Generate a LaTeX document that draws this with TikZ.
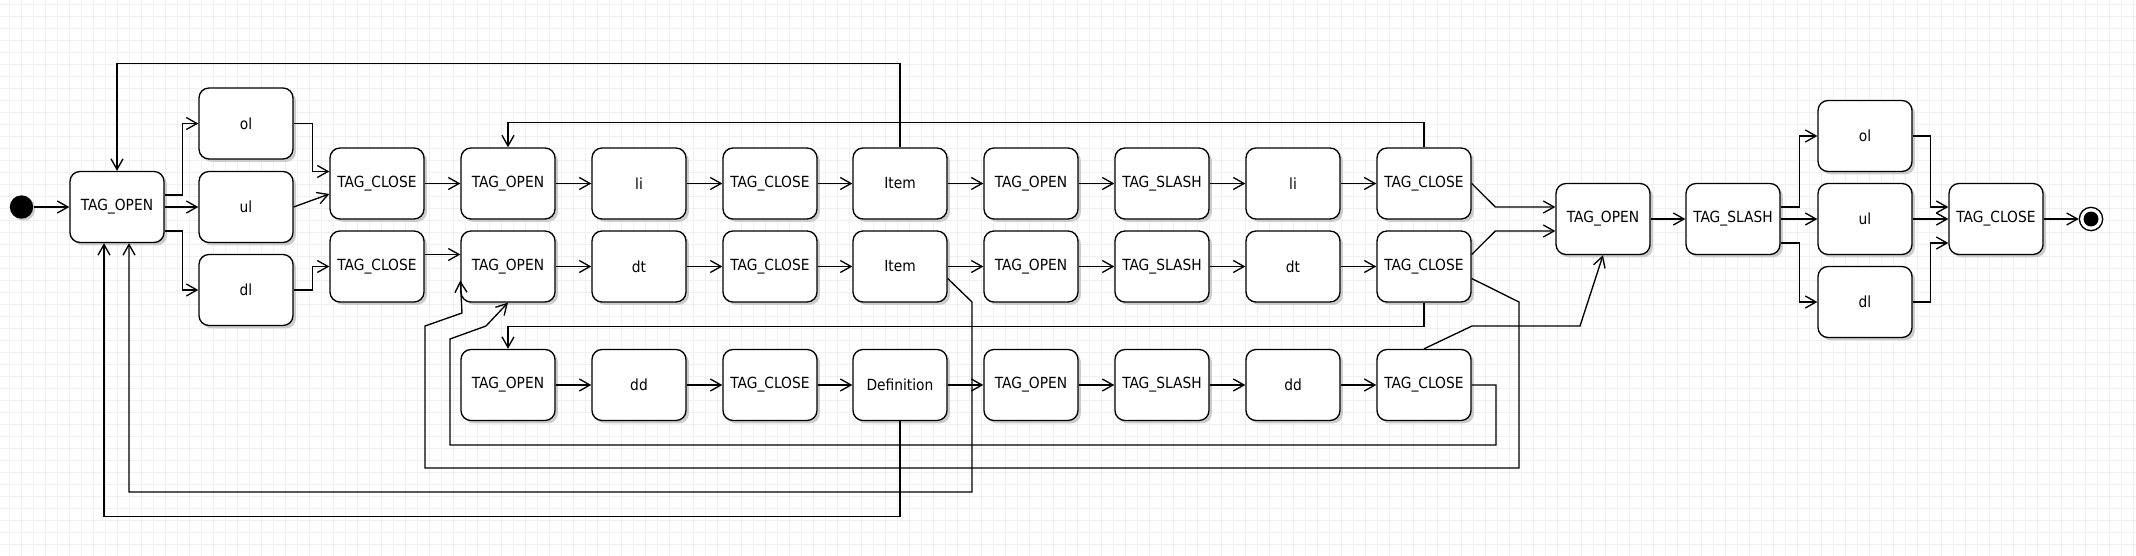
\documentclass[tikz,border=0pt]{standalone}
\usepackage{fontspec}
\setmainfont{DejaVu Sans Condensed}
\usetikzlibrary{arrows.meta,calc,shadows}
\tikzset{every picture/.style={line width=0.75pt}}
\tikzset{
  stbox/.style={draw, fill=white, rounded corners=7.5pt, minimum width=70.5pt, minimum height=53.25pt,
    inner sep=0pt, line width=1pt, font=\fontsize{11.5}{13}\selectfont,
    drop shadow={shadow xshift=2.2pt, shadow yshift=-2.2pt, fill=black!20, opacity=1}},
  startdot/.style={circle, fill=black, minimum size=17.5pt, inner sep=0pt,
    drop shadow={shadow xshift=1.5pt, shadow yshift=-1.5pt, fill=black!20, opacity=1}},
  enddot/.style={circle, draw, fill=white, line width=1pt, minimum size=17.5pt, inner sep=0pt,
    path picture={\fill[black] (path picture bounding box.center) circle (5.6pt);}},
  arr/.style={-{Straight Barb[length=8pt,width=9pt]}, line width=1pt},
  gridline/.style={draw=black!6, line width=0.6pt}
}

\begin{document}
\begin{tikzpicture}[x=0.75pt,y=0.75pt,yscale=-1,xscale=1]
%set diagram left start at 0, and has height of 556
\fill[white] (0,0) rectangle (2136,556);
\useasboundingbox (0,0) rectangle (2136,556);
%Shape: Grid
\begin{scope}[shift={(9.5,4)}]
\draw[gridline] (-9.5,-4) grid[step=9pt] (2126.5,552);
\end{scope}

%Shape: Ellipse [start]
\node[startdot] (start) at (21.5,207) {};
% Text Node [list opening]
\node[stbox] (open) at (117,207) {TAG\_OPEN};
\node[stbox] (ol) at (246,123.5) {ol};
\node[stbox] (ul) at (246,207) {ul};
\node[stbox] (dl) at (246,290) {dl};
\node[stbox] (closeol) at (377,183.5) {TAG\_CLOSE};
\node[stbox] (closedl) at (377,266.5) {TAG\_CLOSE};
% Text Node [li row]
\node[stbox] (r1a) at (508,183.5) {TAG\_OPEN};
\node[stbox] (r1b) at (639,183.5) {li};
\node[stbox] (r1c) at (770,183.5) {TAG\_CLOSE};
\node[stbox] (r1d) at (900,183.5) {Item};
\node[stbox] (r1e) at (1031,183.5) {TAG\_OPEN};
\node[stbox] (r1f) at (1162,183.5) {TAG\_SLASH};
\node[stbox] (r1g) at (1293,183.5) {li};
\node[stbox] (r1h) at (1424,183.5) {TAG\_CLOSE};
% Text Node [dt row]
\node[stbox] (r2a) at (508,266.5) {TAG\_OPEN};
\node[stbox] (r2b) at (639,266.5) {dt};
\node[stbox] (r2c) at (770,266.5) {TAG\_CLOSE};
\node[stbox] (r2d) at (900,266.5) {Item};
\node[stbox] (r2e) at (1031,266.5) {TAG\_OPEN};
\node[stbox] (r2f) at (1162,266.5) {TAG\_SLASH};
\node[stbox] (r2g) at (1293,266.5) {dt};
\node[stbox] (r2h) at (1424,266.5) {TAG\_CLOSE};
% Text Node [dd row]
\node[stbox] (r3a) at (508,385) {TAG\_OPEN};
\node[stbox] (r3b) at (639,385) {dd};
\node[stbox] (r3c) at (770,385) {TAG\_CLOSE};
\node[stbox] (r3d) at (900,385) {Definition};
\node[stbox] (r3e) at (1031,385) {TAG\_OPEN};
\node[stbox] (r3f) at (1162,385) {TAG\_SLASH};
\node[stbox] (r3g) at (1293,385) {dd};
\node[stbox] (r3h) at (1424,385) {TAG\_CLOSE};
% Text Node [list closing]
\node[stbox] (open2) at (1603,219) {TAG\_OPEN};
\node[stbox] (slash2) at (1733,219) {TAG\_SLASH};
\node[stbox] (ol2) at (1865,136) {ol};
\node[stbox] (ul2) at (1865,219) {ul};
\node[stbox] (dl2) at (1865,302) {dl};
\node[stbox] (close2) at (1996,219) {TAG\_CLOSE};
%Shape: Ellipse [end]
\node[enddot] (stop) at (2091,219) {};

%Straight Lines [opening]
\draw[arr] (start) -- (open);
\draw[arr] ($(open.east)+(0,-12)$) -- ++(18,0) |- (ol.west);
\draw[arr] (open.east) -- (ul.west);
\draw[arr] ($(open.east)+(0,24)$) -- ++(18,0) |- (dl.west);
\draw[arr] (ol.east) -- ++(19,0) |- ($(closeol.west)+(0,-12)$);
\draw[arr] (ul.east) -- ($(closeol.west)+(0,10.5)$);
\draw[arr] (dl.east) -- ++(19,0) |- (closedl.west);
\draw[arr] (closeol) -- (r1a);
\draw[arr] ($(closedl.east)+(0,-12)$) -- ($(r2a.west)+(0,-12)$);

%Straight Lines [rows]
\draw[arr] (r1a) -- (r1b);
\draw[arr] (r1b) -- (r1c);
\draw[arr] (r1c) -- (r1d);
\draw[arr] (r1d) -- (r1e);
\draw[arr] (r1e) -- (r1f);
\draw[arr] (r1f) -- (r1g);
\draw[arr] (r1g) -- (r1h);
\draw[arr] (r2a) -- (r2b);
\draw[arr] (r2b) -- (r2c);
\draw[arr] (r2c) -- (r2d);
\draw[arr] (r2d) -- (r2e);
\draw[arr] (r2e) -- (r2f);
\draw[arr] (r2f) -- (r2g);
\draw[arr] (r2g) -- (r2h);
\draw[arr] (r3a) -- (r3b);
\draw[arr] (r3b) -- (r3c);
\draw[arr] (r3c) -- (r3d);
\draw[arr] (r3d) -- (r3e);
\draw[arr] (r3e) -- (r3f);
\draw[arr] (r3f) -- (r3g);
\draw[arr] (r3g) -- (r3h);

%Straight Lines [loops]
\draw[arr] (r1d.north) -- ++(0,-84) -| (open.north);
\draw[arr] (r1h.north) -- ++(0,-25) -| (r1a.north);
\draw[arr] (r2h.south) -- ++(0,24) -| (r3a.north);
\draw[arr] ($(r2h.east)+(0,12)$) -- (1519,302) -- (1519,468) -- (425,468) -- (425,326) -- (462,313) -- ($(r2a.west)+(0,14)$);
\draw[arr] (r3h.east) -- (1496,385) -- (1496,445) -- (450,445) -- (450,339) -- (486,326) -- (r2a.south);
\draw[arr] ($(r2d.east)+(0,12)$) -- (972,302) -- (972,492) -| ($(open.south)+(12,0)$);
\draw[arr] (r3d.south) -- ++(0,95) -| ($(open.south)+(-13,0)$);

%Straight Lines [closing]
\draw[arr] (r1h.east) -- ($(open2.west)+(-60,-12)$) -- ($(open2.west)+(0,-12)$);
\draw[arr] ($(r2h.east)+(0,-12)$) -- ($(open2.west)+(-60,12)$) -- ($(open2.west)+(0,12)$);
\draw[arr] (r3h.north) -- (1472,326) -- (1580,326) -- (open2.south);
\draw[arr] (open2) -- (slash2);
\draw[arr] ($(slash2.east)+(0,-12)$) -- ++(19,0) |- (ol2.west);
\draw[arr] (slash2.east) -- (ul2.west);
\draw[arr] ($(slash2.east)+(0,24)$) -- ++(19,0) |- (dl2.west);
\draw[arr] (ol2.east) -- ++(18,0) |- ($(close2.west)+(0,-12)$);
\draw[arr] (ul2.east) -- (close2.west);
\draw[arr] (dl2.east) -- ++(18,0) |- ($(close2.west)+(0,24)$);
\draw[arr] (close2) -- (stop);
\end{tikzpicture}
\end{document}
